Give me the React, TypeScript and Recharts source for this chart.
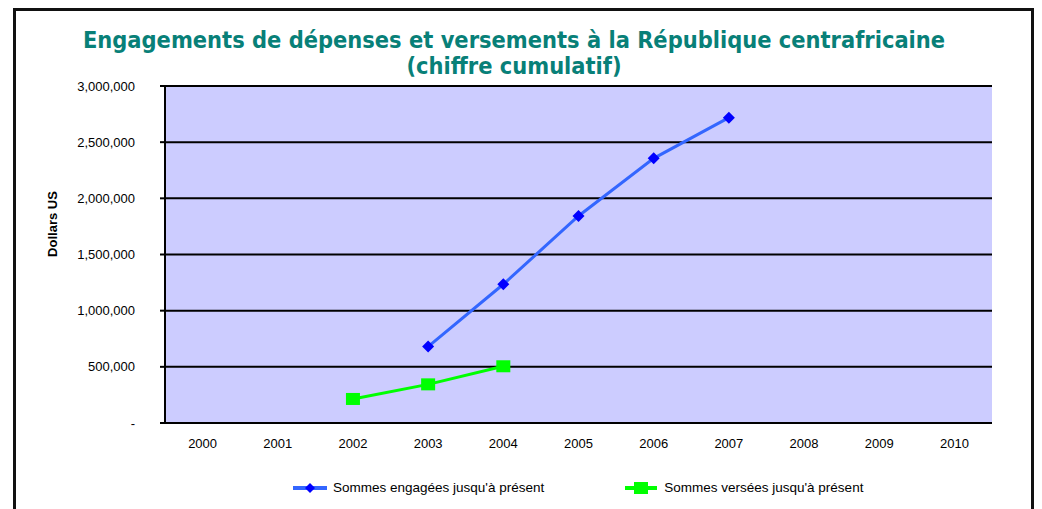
import { CartesianGrid, Line, LineChart, XAxis, YAxis } from "recharts";

const years = [2000, 2001, 2002, 2003, 2004, 2005, 2006, 2007, 2008, 2009, 2010];
const engagees: (number | null)[] = [null, null, null, 680000, 1235000, 1843000, 2356000, 2718000, null, null, null];
const versees: (number | null)[] = [null, null, 214000, 344000, 505000, null, null, null, null, null, null];
const yTicks = [0, 500000, 1000000, 1500000, 2000000, 2500000, 3000000];
const bandEdges = [...years.map((y) => y - 0.5), years[years.length - 1] + 0.5];

const BLUE_LINE = "#3366FF";
const BLUE_DOT = "#0000FF";
const GREEN = "#00FF00";
const FONT = "Arial, 'Liberation Sans', sans-serif";

const data = years.map((year, i) => ({
  year,
  engagees: engagees[i],
  versees: versees[i],
}));

const fmtY = (v: number) => (v === 0 ? "-" : v.toLocaleString("en-US"));

function Diamond(props: any) {
  const { cx, cy } = props;
  if (cx == null || cy == null || props.value == null) return null;
  return <polygon points={`${cx},${cy - 6} ${cx + 6},${cy} ${cx},${cy + 6} ${cx - 6},${cy}`} fill={BLUE_DOT} />;
}

function Square(props: any) {
  const { cx, cy } = props;
  if (cx == null || cy == null || props.value == null) return null;
  return <rect x={cx - 7} y={cy - 6} width={14} height={12} fill={GREEN} />;
}

export default function App() {
  return (
    <div style={{ position: "relative", width: 1026, height: 501, fontFamily: FONT }}>
      <div
        style={{
          position: "absolute",
          left: 5,
          top: 0,
          width: 1015,
          height: 520,
          border: "3px solid #111",
        }}
      />
      <div
        style={{
          position: "absolute",
          left: 0,
          width: 1012,
          top: 19,
          textAlign: "center",
          color: "#088078",
          fontFamily: "'DejaVu Sans Condensed', 'DejaVu Sans', sans-serif",
          fontWeight: "bold",
          fontSize: 23.4,
          lineHeight: "26px",
        }}
      >
        Engagements de dépenses et versements à la République centrafricaine
        <br />
        (chiffre cumulatif)
      </div>
      <div style={{ position: "absolute", left: 0, top: 0 }}>
        <LineChart width={1026} height={501} data={data} margin={{ top: 78, right: 42, left: 0, bottom: 56 }}>
          <CartesianGrid
            vertical={false}
            fill="#CCCCFF"
            fillOpacity={1}
            stroke="#000"
            strokeWidth={2}
            horizontalValues={yTicks}
          />
          <XAxis
            xAxisId="edges"
            dataKey="year"
            type="number"
            domain={[1999.5, 2010.5]}
            ticks={bandEdges}
            tick={false}
            height={0}
            tickSize={5}
            axisLine={{ stroke: "#000", strokeWidth: 2 }}
            tickLine={{ stroke: "#000", strokeWidth: 2 }}
          />
          <XAxis
            dataKey="year"
            type="number"
            domain={[1999.5, 2010.5]}
            ticks={years}
            interval={0}
            height={30}
            tickSize={0}
            tickMargin={16}
            axisLine={false}
            tickLine={false}
            tick={{ fontSize: 13, fill: "#000", fontFamily: FONT }}
          />
          <YAxis
            width={157}
            domain={[0, 3000000]}
            ticks={yTicks}
            interval={0}
            tickFormatter={fmtY}
            tickSize={5}
            tickMargin={25}
            axisLine={{ stroke: "#000", strokeWidth: 2 }}
            tickLine={{ stroke: "#000", strokeWidth: 2 }}
            tick={{ fontSize: 13, fill: "#000", fontFamily: FONT }}
            label={{
              content: () => (
                <text
                  transform="translate(49,216) rotate(-90)"
                  textAnchor="middle"
                  fontSize={13}
                  fontWeight="bold"
                  fontFamily={FONT}
                  fill="#000"
                >
                  Dollars US
                </text>
              ),
            }}
          />
          <YAxis
            yAxisId="right"
            orientation="right"
            width={0}
            domain={[0, 3000000]}
            tick={false}
            tickLine={false}
            axisLine={{ stroke: "#888", strokeWidth: 2 }}
          />
          <Line
            dataKey="engagees"
            stroke={BLUE_LINE}
            strokeWidth={3}
            dot={<Diamond />}
            activeDot={false}
            isAnimationActive={false}
          />
          <Line
            dataKey="versees"
            stroke={GREEN}
            strokeWidth={3}
            dot={<Square />}
            activeDot={false}
            isAnimationActive={false}
          />
        </LineChart>
      </div>
      <div
        style={{
          position: "absolute",
          top: 472,
          left: 285,
          display: "flex",
          alignItems: "center",
          fontSize: 13.5,
          color: "#000",
        }}
      >
        <svg width={34} height={14}>
          <line x1={0} y1={7} x2={34} y2={7} stroke={BLUE_LINE} strokeWidth={4} />
          <polygon points="17,2 22,7 17,12 12,7" fill={BLUE_DOT} />
        </svg>
        <span style={{ marginLeft: 6 }}>Sommes engagées jusqu'à présent</span>
        <svg width={32} height={14} style={{ marginLeft: 81 }}>
          <line x1={0} y1={7} x2={32} y2={7} stroke={GREEN} strokeWidth={4} />
          <rect x={9} y={1} width={14} height={12} fill={GREEN} />
        </svg>
        <span style={{ marginLeft: 7 }}>Sommes versées jusqu'à présent</span>
      </div>
    </div>
  );
}
